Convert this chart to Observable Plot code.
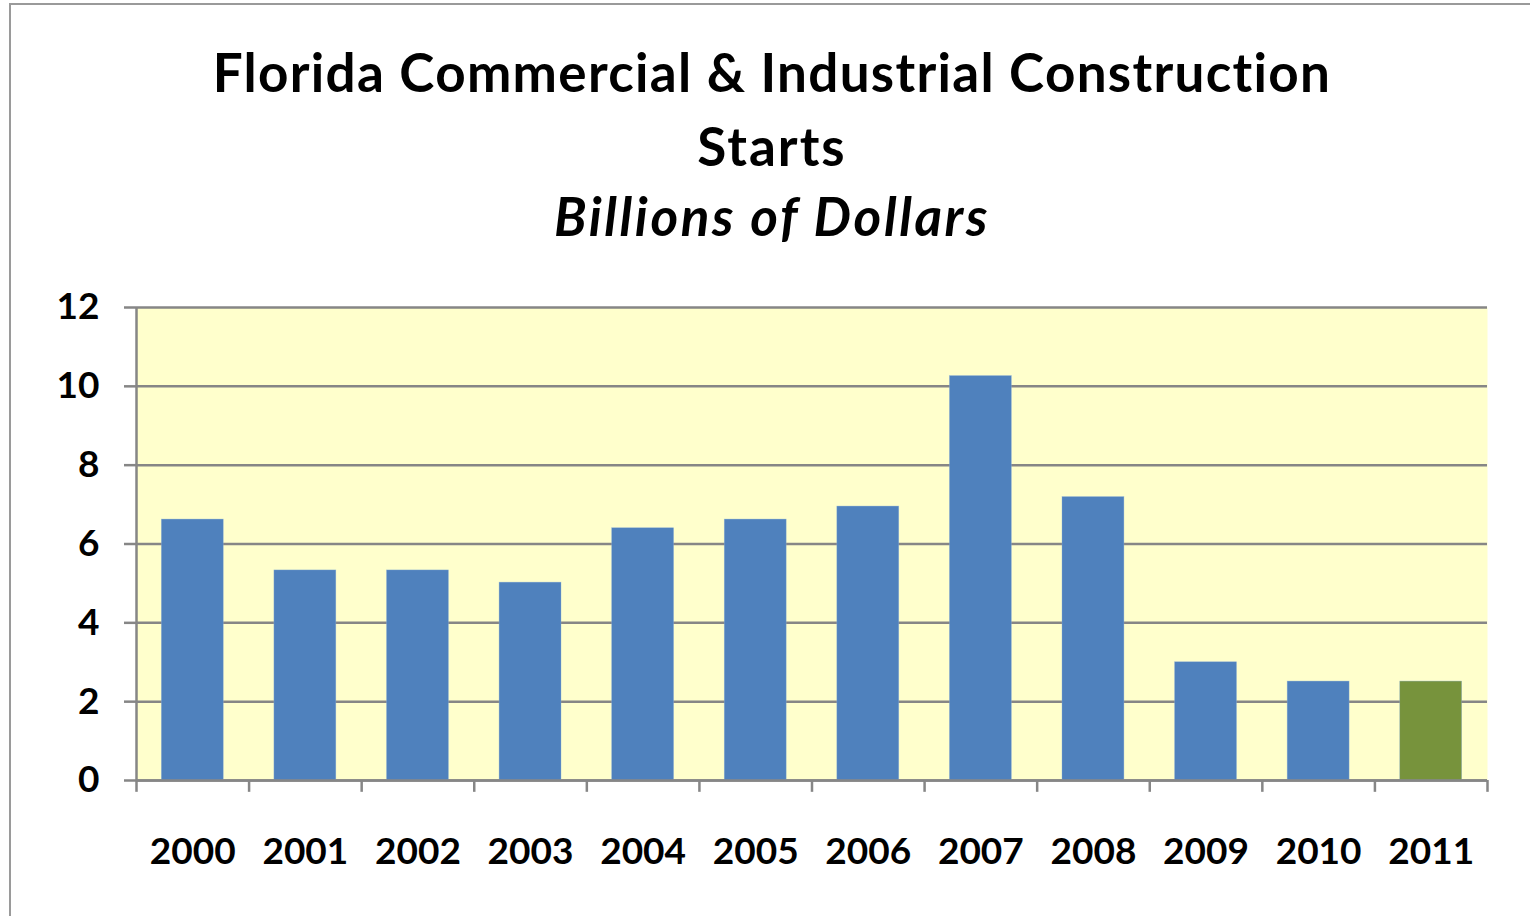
<!DOCTYPE html>
<html>
<head>
<meta charset="utf-8">
<script src="https://cdn.jsdelivr.net/npm/d3@7"></script>
<script src="https://cdn.jsdelivr.net/npm/@observablehq/plot@0.6"></script>
<style>
  html, body { margin: 0; padding: 0; background: #fff; }
  #wrap { position: relative; width: 1530px; height: 916px; overflow: hidden; font-family: Lato, "Open Sans", sans-serif; }
  #frame { position: absolute; left: 9px; top: 3px; width: 1600px; height: 1000px; border-left: 2px solid #9a9a9a; border-top: 2px solid #9a9a9a; }
  .t { position: absolute; left: 10px; width: 1524px; text-align: center; font-weight: 700; color: #000; font-size: 53px; line-height: 1; white-space: nowrap; }
  #chart { position: absolute; left: 0; top: 0; }
</style>
</head>
<body>
<div id="wrap">
  <div id="frame"></div>
  <div id="chart"></div>
  <div class="t" id="t1" style="top:45px; letter-spacing:1.3px">Florida Commercial &amp; Industrial Construction</div>
  <div class="t" id="t2" style="top:119px; letter-spacing:2px">Starts</div>
  <div class="t" id="t3" style="top:189px; font-style: italic; letter-spacing:2.6px">Billions of Dollars</div>
</div>
<script>
const years = ["2000","2001","2002","2003","2004","2005","2006","2007","2008","2009","2010","2011"];
const values = [6.62, 5.33, 5.33, 5.02, 6.4, 6.62, 6.95, 10.26, 7.19, 3.0, 2.51, 2.51];
const barColors = ["#4F81BD","#4F81BD","#4F81BD","#4F81BD","#4F81BD","#4F81BD","#4F81BD","#4F81BD","#4F81BD","#4F81BD","#4F81BD","#77933C"];
const yTicks = [0, 2, 4, 6, 8, 10, 12];

const data = years.map((y, i) => ({year: y, value: values[i], color: barColors[i]}));

const W = 1530, H = 916;
const mL = 136, mR = 43, mT = 307, mB = 136;
const step = (W - mL - mR) / years.length;
const grid = "#868686";

const chart = Plot.plot({
  width: W,
  height: H,
  marginLeft: mL,
  marginRight: mR,
  marginTop: mT,
  marginBottom: mB,
  style: {fontFamily: "Lato, 'Open Sans', sans-serif", background: "transparent", overflow: "visible"},
  x: {type: "band", domain: years, paddingInner: 0.45, paddingOuter: 0.225, round: false, label: null},
  y: {domain: [0, 12], ticks: yTicks, label: null},
  marks: [
    Plot.frame({fill: "#FFFFCC", stroke: null}),
    Plot.ruleY(yTicks, {stroke: grid, strokeWidth: 2.5}),
    Plot.barY(data, {x: "year", y: "value", fill: "color", stroke: "#8eb0d8", strokeWidth: 0.6, strokeOpacity: 0.6}),
    Plot.ruleY([0], {stroke: grid, strokeWidth: 2.5}),
    Plot.ruleX([years[0]], {x: d => d, y1: 0, y2: 12, dx: -step / 2, stroke: grid, strokeWidth: 2.5}),
    Plot.ruleX(years, {x: d => d, y1: 0, y2: -0.3, dx: -step / 2, stroke: grid, strokeWidth: 2.5}),
    Plot.ruleX([years[years.length - 1]], {x: d => d, y1: 0, y2: -0.3, dx: step / 2, stroke: grid, strokeWidth: 2.5}),
    Plot.axisY(yTicks, {tickSize: 12, tickPadding: 25, stroke: grid, strokeWidth: 2.5, fontSize: 37, fontWeight: 700, fill: "#000", tickFormat: d => String(d)}),
    Plot.axisX({tickSize: 0, tickPadding: 57, fontSize: 37, fontWeight: 700, fill: "#000"})
  ]
});
document.getElementById("chart").appendChild(chart);
</script>
</body>
</html>
